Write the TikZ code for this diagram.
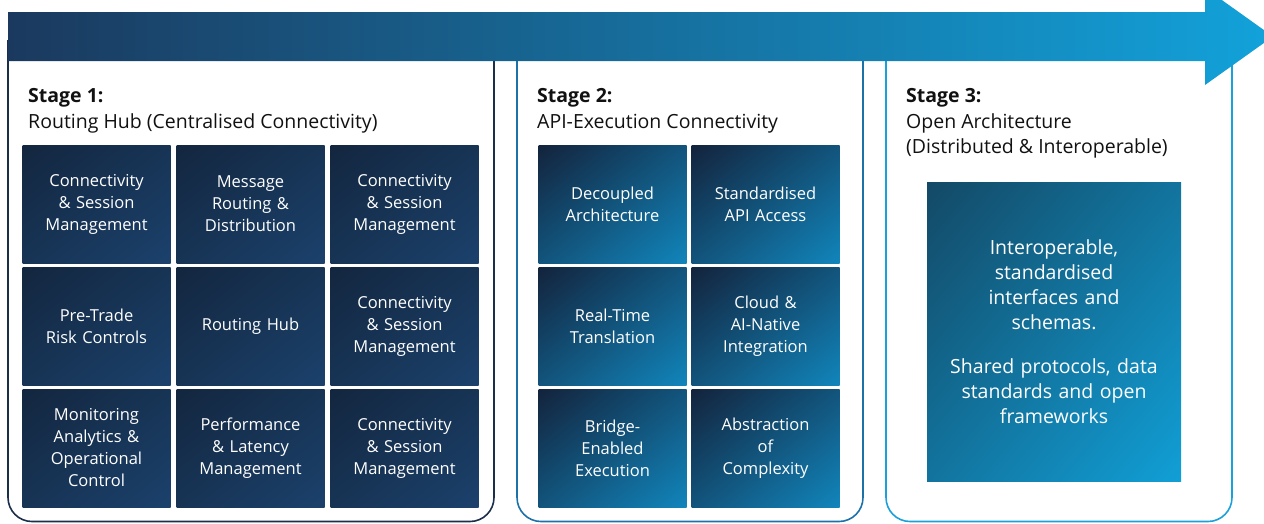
\documentclass[tikz,border=0pt]{standalone}
\usepackage{fontspec}
\setmainfont{Open Sans}
\usetikzlibrary{shadings}
\definecolor{arrowL}{HTML}{1B395E}
\definecolor{arrowM}{HTML}{15699A}
\definecolor{arrowR}{HTML}{12A2DA}
\definecolor{bordA}{HTML}{1B2E4A}
\definecolor{bordB}{HTML}{1C72A8}
\definecolor{bordC}{HTML}{1AA0DA}
\definecolor{aUL}{HTML}{13263F}
\definecolor{aLR}{HTML}{1B416C}
\definecolor{aMX}{HTML}{173455}
\definecolor{bUL}{HTML}{13233C}
\definecolor{bLR}{HTML}{1185BB}
\definecolor{bMX}{HTML}{12547C}
\definecolor{cUL}{HTML}{134966}
\definecolor{cLR}{HTML}{119FD6}
\definecolor{cMX}{HTML}{12749E}
\definecolor{headtext}{HTML}{111111}
\tikzset{
  panel/.style={line width=1.6pt, rounded corners=24pt},
  tilebase/.style={rectangle, inner sep=0pt, minimum width=148pt, minimum height=118pt,
    text width=146pt, align=center, text=white, font=\fontsize{16.5}{22}\selectfont},
  tileA/.style={tilebase, upper left=aUL, lower right=aLR, upper right=aMX, lower left=aMX},
  tileB/.style={tilebase, upper left=bUL, lower right=bLR, upper right=bMX, lower left=bMX},
  bigbox/.style={rectangle, inner sep=0pt, minimum width=254pt, minimum height=299pt,
    text width=250pt, align=center, text=white, font=\fontsize{19.5}{25}\selectfont,
    upper left=cUL, lower right=cLR, upper right=cMX, lower left=cMX},
  stagehead/.style={anchor=base west, inner sep=0pt, text=headtext, font=\bfseries\fontsize{19.5}{27}\selectfont},
  stagesub/.style={anchor=base west, inner sep=0pt, text=headtext, font=\fontsize{19.5}{25}\selectfont},
}
\begin{document}
\begin{tikzpicture}[x=1pt,y=-1pt]
\useasboundingbox (0,0) rectangle (1264,523);
\clip (0,0) rectangle (1264,523);
% panels
\draw[panel, draw=bordA] (8,40) -- (8,521.5) -- (494,521.5) -- (494,40);
\draw[panel, draw=bordB] (517,40) -- (517,521.5) -- (863,521.5) -- (863,40);
\draw[panel, draw=bordC] (886,40) -- (886,521.5) -- (1232,521.5) -- (1232,40);
% arrow
\shade[left color=arrowL, middle color=arrowM, right color=arrowR]
  (8,12) -- (1205,12) -- (1205,-12) -- (1273,36.5) -- (1205,85) -- (1205,61) -- (8,61) -- cycle;
% headings
\node[stagehead] (h1) at (28,102) {Stage 1:};
\node[stagesub] (s1) at (28,128) {Routing Hub (Centralised Connectivity)};
\node[stagehead] (h2) at (537,102) {Stage 2:};
\node[stagesub] (s2) at (537,128) {API-Execution Connectivity};
\node[stagehead] (h3) at (906,102) {Stage 3:};
\node[stagesub] (s3) at (906,128) {Open Architecture};
\node[stagesub] (s3b) at (906,153) {(Distributed \& Interoperable)};
% stage 1 tiles
\node[tileA] (a11) at (96.5,204) {Connectivity\\\& Session\\Management};
\node[tileA] (a12) at (250.5,204) {Message\\Routing \&\\Distribution};
\node[tileA] (a13) at (404.5,204) {Connectivity\\\& Session\\Management};
\node[tileA] (a21) at (96.5,326) {Pre-Trade\\Risk Controls};
\node[tileA] (a22) at (250.5,326) {Routing Hub};
\node[tileA] (a23) at (404.5,326) {Connectivity\\\& Session\\Management};
\node[tileA] (a31) at (96.5,448) {Monitoring\\Analytics \&\\Operational\\Control};
\node[tileA] (a32) at (250.5,448) {Performance\\\& Latency\\Management};
\node[tileA] (a33) at (404.5,448) {Connectivity\\\& Session\\Management};
% stage 2 tiles
\node[tileB] (b11) at (612.5,204) {Decoupled\\Architecture};
\node[tileB] (b12) at (765.5,204) {Standardised\\API Access};
\node[tileB] (b21) at (612.5,326) {Real-Time\\Translation};
\node[tileB] (b22) at (765.5,326) {Cloud \&\\AI-Native\\Integration};
\node[tileB] (b31) at (612.5,448) {Bridge-\\Enabled\\Execution};
\node[tileB] (b32) at (765.5,448) {Abstraction\\of\\Complexity};
% stage 3 box
\node[bigbox] (c1) at (1054,332) {Interoperable,\\standardised\\interfaces and\\schemas.\\[19pt]Shared protocols, data\\standards and open\\frameworks};
\end{tikzpicture}
\end{document}
